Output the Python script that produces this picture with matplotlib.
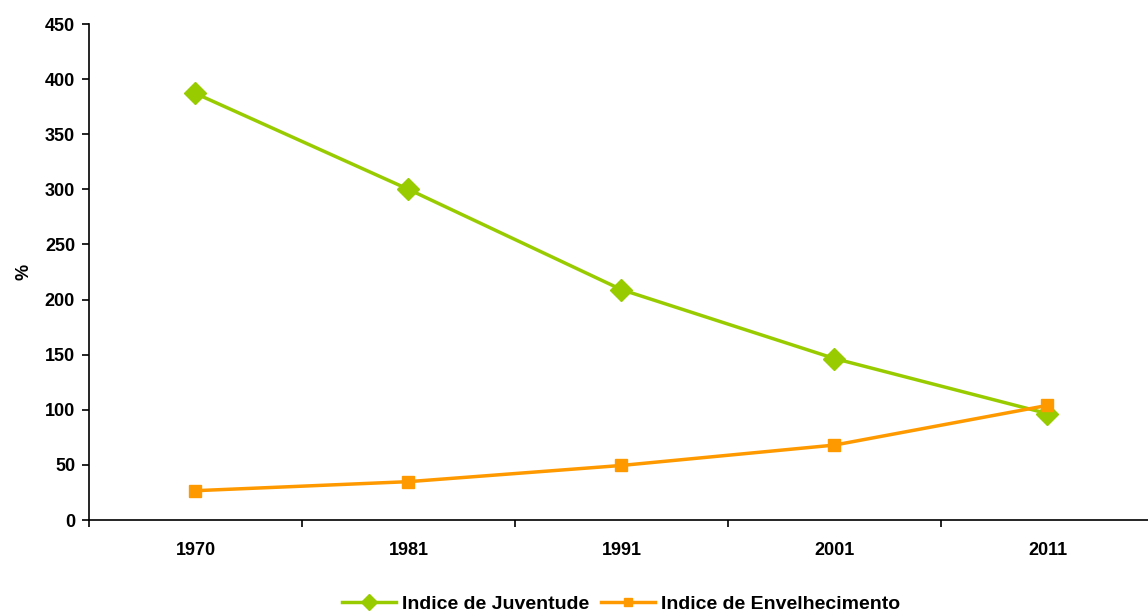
import matplotlib
matplotlib.use("Agg")
import matplotlib.pyplot as plt
from matplotlib.ticker import FixedLocator, NullFormatter

plt.rcParams['font.family'] = ['Liberation Sans', 'DejaVu Sans']

years = ["1970", "1981", "1991", "2001", "2011"]
indice_juventude = [387, 300, 209, 146.5, 96.5]
indice_envelhecimento = [26.6, 34.8, 49.5, 68, 104]

fig = plt.figure(figsize=(11.48, 6.13), dpi=100)
ax = fig.add_axes([0.0775, 0.1517, 0.9277, 0.8091])

x = range(len(years))
ax.plot(x, indice_juventude, color="#99CC00", lw=2.5, marker="D",
        markersize=11, label="Indice de Juventude", zorder=3)
ax.plot(x, indice_envelhecimento, color="#FF9900", lw=2.5, marker="s",
        markersize=8, label="Indice de Envelhecimento", zorder=4)

ax.set_xlim(-0.5, len(years) - 0.5)
ax.set_ylim(0, 450)
ax.set_yticks(range(0, 451, 50))

ax.set_xticks(list(x))
ax.set_xticklabels(years, fontsize=13, fontweight="bold")
ax.xaxis.set_minor_locator(FixedLocator([i + 0.5 for i in range(-1, len(years))]))
ax.xaxis.set_minor_formatter(NullFormatter())
ax.tick_params(axis="x", which="major", length=0, pad=16)
ax.tick_params(axis="x", which="minor", length=5, width=1.2, direction="out")
ax.tick_params(axis="y", length=5, width=1.2, direction="out", pad=5)
for lbl in ax.get_yticklabels():
    lbl.set_fontsize(13)
    lbl.set_fontweight("bold")

ax.set_ylabel("%", fontsize=13, fontweight="bold", labelpad=9)

for side in ("top", "right"):
    ax.spines[side].set_visible(False)
for side in ("left", "bottom"):
    ax.spines[side].set_linewidth(1.2)

fig.legend(*ax.get_legend_handles_labels(), loc="center",
           bbox_to_anchor=(0.541, 0.015), ncol=2, frameon=False,
           prop={"size": 14, "weight": "bold"}, handlelength=2.8,
           handletextpad=0.3, columnspacing=0.6, borderaxespad=0,
           borderpad=0, markerscale=0.75)

fig.savefig("out.png", dpi=100)
